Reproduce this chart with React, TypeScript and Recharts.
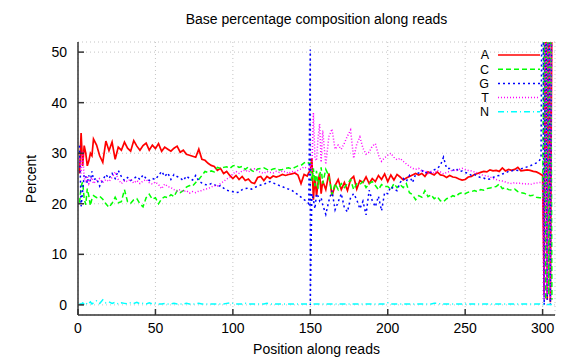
import React from "react";
import { CartesianGrid, Legend, Line, LineChart, XAxis, YAxis } from "recharts";

// position along read (dense sampling where the curves are jumpy)
const positions = [
  1, 2, 3, 4, 5, 6, 7, 8, 9, 10,
  12, 14, 16, 18, 20, 22, 24, 26, 28, 30,
  32, 34, 36, 38, 40, 42, 44, 46, 48, 50,
  52, 54, 56, 58, 60, 62, 64, 66, 68, 70,
  72, 74, 76, 78, 80, 82, 84, 86, 88, 90,
  92, 94, 96, 98, 100, 102, 104, 106, 108, 110,
  112, 114, 116, 118, 120, 122, 124, 126, 128, 130,
  132, 134, 136, 138, 140, 142, 144, 146, 148,
  149, 150, 150, 151, 152, 153, 154, 155, 156, 157, 158,
  160, 162, 164, 166, 168, 170, 172, 174, 176, 178,
  180, 182, 184, 186, 188, 190, 192, 194, 196, 198,
  200, 202, 204, 206, 208, 210, 212, 214, 216, 218,
  220, 222, 224, 226, 228, 230, 232, 234, 236, 238,
  240, 242, 244, 246, 248, 250, 252, 254, 256, 258,
  260, 262, 264, 266, 268, 270, 272, 274, 276, 278,
  280, 282, 284, 286, 288, 290, 292, 294, 296, 298,
  299, 300, 301, 302, 303, 304, 305, 306,
];

const pctA = [
  26, 34, 27.5, 31.5, 30, 27.5, 28.5, 30, 29.5, 32.8,
  31.6, 29.5, 28.2, 32.4, 30.5, 32.2, 28.8, 31.2, 30.6, 32.2,
  31.0, 30.4, 32.5, 31.4, 30.6, 31.5, 32.0, 30.6, 31.6, 30.9,
  31.9, 30.4, 31.2, 30.8, 30.4, 31.0, 31.4, 30.2, 30.6, 29.8,
  29.6, 29.4, 29.2, 30.8, 28.8, 28.6, 28.0, 27.6, 27.4, 26.6,
  27.0, 26.0, 26.4, 25.6, 25.0, 25.6, 24.8, 25.4, 24.6, 24.9,
  24.2, 24.0, 25.2, 25.4, 24.6, 25.4, 25.0, 25.5, 25.3, 25.5,
  25.8, 25.6, 25.8, 25.9, 26.1, 25.7, 24.0, 25.8, 25.5,
  26.2, 26.5, 26.5, 29.0, 20.8, 25.5, 21.5, 24.2, 26.0, 22.0, 24.5,
  22.8, 26.0, 21.6, 23.6, 24.8, 22.8, 24.2, 22.6, 24.8, 25.4,
  22.9, 24.6, 24.2, 25.3, 24.0, 25.0, 24.4, 25.6, 24.8, 25.9,
  24.4, 25.7, 24.7, 25.8, 25.3, 24.7, 25.1, 25.4, 25.7, 26.0,
  25.7, 26.0, 25.4, 26.3, 26.0, 25.7, 26.3, 25.7, 25.6, 25.2,
  25.6, 25.3, 25.2, 24.9, 24.7, 24.8, 25.3, 25.4, 25.8, 26.0,
  26.2, 26.4, 26.3, 26.7, 26.5, 26.6, 26.4, 27.1, 26.5, 26.8,
  26.6, 26.8, 27.2, 26.5, 26.6, 26.7, 26.6, 26.4, 26.3, 26.0,
  25.8, 25.6, 2, 70, 1, 80, 0.5, 60,
];

const pctC = [
  20.2, 23.5, 24.3, 21.0, 19.8, 23.0, 21.5, 19.6, 21.0, 21.6,
  21.2, 21.5, 20.9, 20.0, 19.3, 20.1, 21.3, 20.2, 20.4, 22.8,
  20.4, 20.1, 20.8, 21.0, 20.0, 19.4, 21.2, 21.9, 20.9, 21.2,
  20.0, 21.0, 21.4, 21.2, 21.8, 21.4, 22.6, 22.2, 22.6, 23.3,
  23.6, 23.5, 24.2, 24.8, 25.6, 26.4, 26.2, 26.5, 26.3, 27.2,
  27.0, 27.2, 27.3, 27.0, 27.5, 27.6, 27.2, 27.4, 26.8, 27.3,
  26.6, 26.3, 26.9, 27.0, 27.1, 26.8, 26.6, 26.9, 27.0, 26.7,
  26.8, 27.0, 27.1, 26.9, 27.2, 27.5, 27.6, 28.1, 28.3,
  28.0, 28.0, 28.0, 24.5, 27.0, 23.5, 26.5, 23.0, 25.5, 27.2, 24.0,
  26.8, 25.5, 21.8, 24.0, 22.8, 24.0, 23.2, 24.0, 24.8, 22.8,
  24.0, 23.8, 24.4, 23.2, 24.0, 24.4, 23.6, 22.8, 23.8, 23.4,
  23.4, 22.8, 24.0, 23.2, 23.8, 23.2, 24.0, 22.2, 21.8, 20.8,
  21.6, 21.3, 22.6, 21.4, 21.8, 21.0, 21.4, 20.6, 20.4, 21.0,
  21.2, 21.6, 21.4, 22.0, 22.2, 22.0, 22.3, 22.4, 22.6, 22.4,
  22.8, 22.7, 23.0, 23.1, 23.3, 23.4, 23.9, 23.0, 23.2, 22.8,
  22.7, 22.9, 22.4, 22.2, 22.1, 21.8, 21.6, 21.7, 21.3, 21.2,
  21.2, 21.0, 60, 1, 75, 2, 85, 1,
];

const pctG = [
  31.5, 19.5, 22.5, 25.8, 25.5, 24.0, 25.6, 24.5, 26.4, 24.8,
  25.0, 23.5, 24.7, 25.8, 25.0, 26.0, 25.0, 26.6, 25.4, 24.6,
  25.2, 24.6, 25.0, 25.4, 24.8, 25.7, 25.0, 24.6, 25.0, 24.8,
  25.6, 26.4, 25.4, 26.1, 24.8, 25.8, 25.4, 25.1, 24.6, 25.5,
  25.0, 24.7, 25.6, 24.5, 24.1, 23.8, 23.7, 24.0, 23.8, 23.4,
  23.6, 23.1, 22.7, 22.5, 22.4, 22.2, 22.3, 22.8, 23.0, 23.1,
  22.9, 23.2, 23.5, 23.7, 23.8, 24.2, 24.4, 24.1, 23.9, 23.6,
  23.4, 23.1, 22.9, 22.7, 22.2, 21.8, 21.3, 20.8, 20.4,
  20.0, 50.5, 0, 22.0, 20.8, 19.0, 22.0, 21.5, 20.6, 21.2, 19.8,
  17.9, 20.6, 22.6, 18.8, 20.4, 22.0, 19.2, 18.4, 21.2, 22.0,
  20.8, 19.0, 20.5, 17.8, 22.7, 20.6, 19.4, 21.5, 18.6, 22.2,
  22.0, 23.4, 22.9, 22.6, 24.2, 25.0, 24.4, 25.6, 24.2, 25.8,
  26.1, 26.6, 26.0, 26.4, 26.2, 26.7, 27.0, 27.6, 29.2, 27.0,
  27.0, 26.6, 27.0, 26.4, 26.5, 26.2, 26.0, 25.6, 25.8, 25.4,
  25.2, 25.1, 24.8, 24.9, 25.2, 25.5, 25.6, 25.9, 26.1, 26.4,
  26.5, 26.7, 26.6, 26.9, 27.1, 27.3, 27.5, 27.8, 28.1, 28.6,
  29.0, 95, 0, 85, 1, 90, 0, 70,
];

const pctT = [
  29.0, 26.0, 30.5, 25.0, 24.2, 25.5, 24.0, 24.8, 25.2, 24.0,
  24.6, 25.0, 24.2, 24.8, 24.4, 25.2, 26.3, 24.8, 24.0, 24.6,
  24.4, 24.9, 24.1, 24.6, 24.0, 24.5, 24.8, 24.2, 23.9, 24.3,
  23.8, 23.0, 23.9, 23.4, 23.2, 22.8, 22.5, 22.8, 22.4, 22.6,
  22.1, 22.4, 22.2, 22.5, 22.6, 22.9, 23.0, 23.3, 23.6, 23.5,
  24.0, 24.4, 24.9, 25.2, 25.9, 26.4, 26.0, 26.5, 26.7, 26.3,
  26.8, 26.9, 26.5, 26.2, 26.0, 26.4, 26.2, 26.1, 26.4, 26.2,
  26.5, 26.3, 26.0, 26.4, 26.2, 26.6, 26.9, 27.3, 27.0,
  27.0, 27.5, 27.5, 26.5, 38.0, 29.0, 28.5, 33.0, 35.8, 28.2, 34.5,
  27.8, 33.3, 34.8, 30.8, 31.6, 30.8, 32.0, 33.4, 34.6, 29.0,
  31.8, 33.2, 31.0, 29.8, 30.2, 31.4, 31.9, 29.6, 28.4, 29.1,
  29.6, 30.0, 29.2, 28.7, 29.0, 28.4, 27.9, 27.4, 27.0, 26.8,
  27.0, 26.4, 26.6, 26.0, 26.4, 26.0, 26.6, 26.3, 25.9, 26.2,
  26.4, 26.7, 26.5, 26.8, 27.0, 26.8, 26.6, 26.5, 26.3, 26.1,
  25.8, 25.6, 25.5, 25.3, 25.0, 24.8, 24.6, 24.5, 24.3, 24.1,
  24.0, 24.2, 24.0, 24.1, 23.9, 24.0, 23.8, 24.0, 24.1, 24.2,
  24.2, 24.0, 1, 65, 2, 90, 1, 75,
];

const pctN = [
  0.3, 0.1, 0.4, 0.2, 0.5, 0.1, 0.3, 0.6, 0.2, 0.4,
  0.8, 0.3, 1.0, 0.4, 0.6, 0.3, 0.5, 0.2, 0.4, 0.3,
  0.2, 0.4, 0.3, 0.5, 0.2, 0.3, 0.2, 0.4, 0.2, 0.3,
  0.2, 0.2, 0.3, 0.2, 0.2, 0.3, 0.2, 0.2, 0.2, 0.3,
  0.2, 0.2, 0.2, 0.3, 0.2, 0.2, 0.2, 0.2, 0.2, 0.2,
  0.2, 0.2, 0.3, 0.4, 0.3, 0.2, 0.2, 0.2, 0.3, 0.2,
  0.2, 0.2, 0.2, 0.2, 0.2, 0.3, 0.2, 0.2, 0.2, 0.2,
  0.2, 0.2, 0.2, 0.2, 0.2, 0.2, 0.2, 0.2, 0.2,
  0.2, 0.3, 0.3, 0.4, 0.2, 0.2, 0.2, 0.2, 0.2, 0.2, 0.2,
  0.2, 0.2, 0.2, 0.2, 0.2, 0.2, 0.2, 0.2, 0.2, 0.2,
  0.2, 0.2, 0.2, 0.2, 0.2, 0.2, 0.2, 0.2, 0.2, 0.2,
  0.4, 0.2, 0.2, 0.2, 0.2, 0.2, 0.2, 0.2, 0.2, 0.2,
  0.2, 0.2, 0.2, 0.2, 0.2, 0.3, 0.3, 0.2, 0.2, 0.2,
  0.2, 0.2, 0.2, 0.2, 0.2, 0.2, 0.2, 0.2, 0.2, 0.2,
  0.2, 0.2, 0.2, 0.2, 0.2, 0.2, 0.2, 0.2, 0.2, 0.2,
  0.2, 0.2, 0.2, 0.2, 0.2, 0.2, 0.2, 0.2, 0.2, 0.2,
  0.1, 0.1, 0.1, 0.1, 0.1, 0.1, 0.1, 0.1,
];

const xTicks = [0, 50, 100, 150, 200, 250, 300];
const yTicks = [0, 10, 20, 30, 40, 50];

const series = [
  { key: "A", color: "#ff0000", dash: undefined },
  { key: "C", color: "#00ff00", dash: "5 3" },
  { key: "G", color: "#0000ff", dash: "2 3" },
  { key: "T", color: "#ff00ff", dash: "1 2" },
  { key: "N", color: "#00ffff", dash: "6 3 1 3" },
];

const rows = positions.map((pos, i) => ({
  pos,
  A: pctA[i],
  C: pctC[i],
  G: pctG[i],
  T: pctT[i],
  N: pctN[i],
}));

const FONT = "'Liberation Sans', Arial, sans-serif";
const BORDER = "#333";
const FS = 14;
const ROW = 14.2;

function KeyBox() {
  return (
    <svg width={80} height={74} style={{ fontFamily: FONT }}>
      {series.map((s, i) => (
        <g key={s.key}>
          <text x={19} y={7 + i * ROW} dy="0.35em" textAnchor="end" fontSize={12.5} fill="#000">
            {s.key}
          </text>
          <line x1={28} x2={70} y1={7 + i * ROW} y2={7 + i * ROW} stroke={s.color} strokeWidth={1.5} strokeDasharray={s.dash} />
        </g>
      ))}
    </svg>
  );
}

export default function App() {
  const blank = () => "";
  return (
    <div style={{ position: "absolute", left: 0, top: 0, width: 576, height: 360, background: "#fff", fontFamily: FONT }}>
      <div style={{ position: "absolute", left: 0, width: 633, top: 11, textAlign: "center", fontSize: FS }}>
        Base percentage composition along reads
      </div>
      <div style={{ position: "absolute", left: 0, width: 633, top: 341, textAlign: "center", fontSize: FS }}>
        Position along reads
      </div>
      <div style={{ position: "absolute", left: 31, top: 179, fontSize: FS, transform: "translate(-50%, -50%) rotate(-90deg)", whiteSpace: "nowrap" }}>
        Percent
      </div>
      <LineChart width={576} height={360} data={rows} margin={{ top: 42, right: 21, bottom: 0, left: 0 }}>
        <CartesianGrid xAxisId="x" yAxisId="y" stroke="#c4c4c4" strokeDasharray="1 3" />
        <XAxis
          xAxisId="x"
          dataKey="pos"
          type="number"
          domain={[0, 308]}
          allowDataOverflow
          ticks={xTicks}
          interval={0}
          height={45}
          tickSize={-6}
          tickMargin={14}
          tick={{ fill: "#000", fontSize: FS }}
          axisLine={{ stroke: BORDER, strokeWidth: 1.5 }}
          tickLine={{ stroke: BORDER, strokeWidth: 1.5 }}
        />
        <XAxis
          xAxisId="top"
          dataKey="pos"
          orientation="top"
          type="number"
          domain={[0, 308]}
          allowDataOverflow
          ticks={xTicks}
          interval={0}
          height={0}
          tickSize={-6}
          tickFormatter={blank}
          axisLine={{ stroke: BORDER, strokeWidth: 1.5 }}
          tickLine={{ stroke: BORDER, strokeWidth: 1.5 }}
        />
        <YAxis
          yAxisId="y"
          type="number"
          domain={[-2, 52]}
          allowDataOverflow
          ticks={yTicks}
          interval={0}
          width={78}
          tickSize={-6}
          tickMargin={17}
          tick={{ fill: "#000", fontSize: FS }}
          axisLine={{ stroke: BORDER, strokeWidth: 1.5 }}
          tickLine={{ stroke: BORDER, strokeWidth: 1.5 }}
        />
        <YAxis
          yAxisId="right"
          orientation="right"
          type="number"
          domain={[-2, 52]}
          allowDataOverflow
          ticks={yTicks}
          interval={0}
          width={0}
          tickSize={-6}
          tickFormatter={blank}
          axisLine={{ stroke: BORDER, strokeWidth: 1.5 }}
          tickLine={{ stroke: BORDER, strokeWidth: 1.5 }}
        />
        {series.map((s) => (
          <Line
            key={s.key}
            xAxisId="x"
            yAxisId="y"
            type="linear"
            dataKey={s.key}
            stroke={s.color}
            strokeWidth={s.key === "A" ? 1.7 : 1.5}
            strokeDasharray={s.dash}
            dot={false}
            activeDot={false}
            isAnimationActive={false}
          />
        ))}
        <Legend
          layout="vertical"
          align="center"
          verticalAlign="middle"
          wrapperStyle={{ top: 48, left: 470, width: 80, height: 74 }}
          content={<KeyBox />}
        />
      </LineChart>
    </div>
  );
}
